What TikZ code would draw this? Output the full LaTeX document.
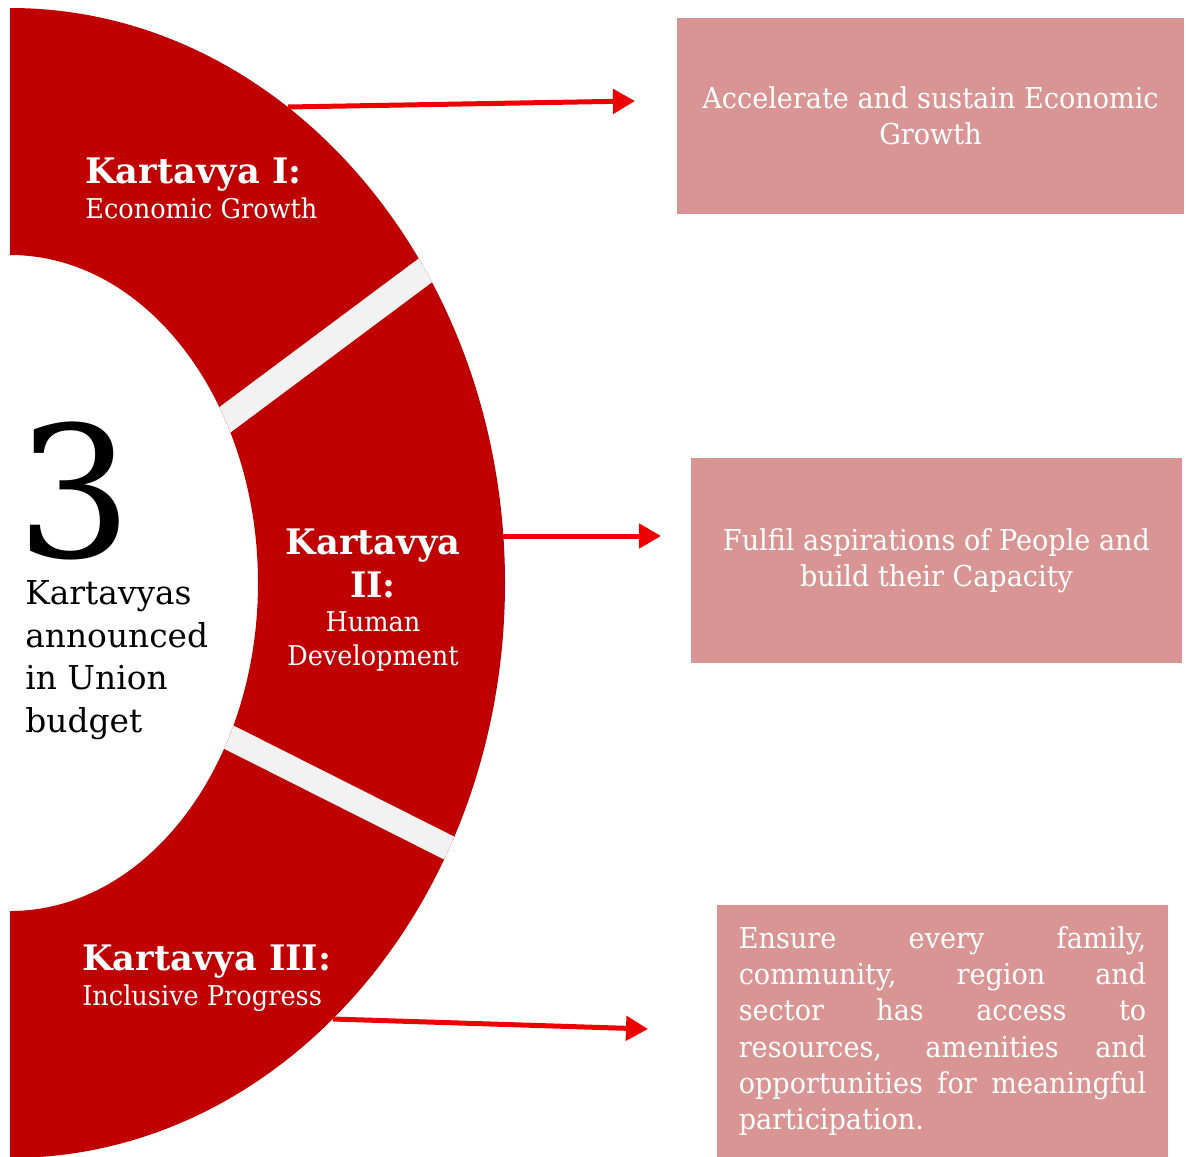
\documentclass[tikz,border=0pt]{standalone}
\usepackage{fontspec}
\setmainfont{DejaVu Serif}
\newfontfamily\slimserif[FakeStretch=0.94]{DejaVu Serif}
\usepackage{tikz}
\usetikzlibrary{shapes,arrows.meta,positioning}

\definecolor{ringred}{RGB}{192,0,0}
\definecolor{gapgray}{RGB}{242,242,242}
\definecolor{arrowred}{RGB}{238,0,0}
\definecolor{boxpink}{RGB}{217,149,148}

\tikzset{
  headtxt/.style={text=white,inner sep=0pt,font=\fontsize{20}{24}\selectfont\bfseries},
  subtxt/.style={text=white,inner sep=0pt,font=\slimserif\fontsize{15.5}{19}\selectfont},
  goalbox/.style={fill=boxpink,text=white,inner sep=0pt,align=center,
    font=\slimserif\fontsize{16.4}{20.6}\selectfont},
  goalarrow/.style={draw=arrowred,line width=0.1cm,-{Triangle[length=0.44cm,width=0.48cm]}}
}

\begin{document}
\begin{tikzpicture}[x=0.02cm,y=-0.02cm]
\useasboundingbox (0,0) rectangle (1186,1156);
% half ring with two gaps
\begin{scope}
\clip (10,8) arc[start angle=-90,end angle=90,x radius=495,y radius=575]
  -- (10,911) arc[start angle=90,end angle=-90,x radius=248,y radius=328] -- cycle;
\fill[ringred] (0,0) rectangle (600,1160);
\draw[gapgray,line width=0.54cm] (10,580) -- (560,170);
\draw[gapgray,line width=0.5cm] (10,627) -- (600,924);
\end{scope}

% centre text
\node[inner sep=0pt,font=\fontsize{104}{104}\selectfont] (num) at (75,491) {3};
\node[inner sep=0pt,anchor=base west,align=left,font=\fontsize{18.7}{24.1}\selectfont] (lead) at (25,732)
  {Kartavyas\\announced\\in Union\\budget};

% kartavya labels
\node[headtxt,anchor=base west] (k1) at (85,183) {Kartavya I:};
\node[subtxt,anchor=base west] (k1s) at (85,218) {Economic Growth};
\node[headtxt,anchor=base] (k2) at (373,554) {Kartavya};
\node[headtxt,anchor=base] (k2n) at (373,597) {II:};
\node[subtxt,anchor=base] (k2s) at (373,631) {Human};
\node[subtxt,anchor=base] (k2t) at (373,665) {Development};
\node[headtxt,anchor=base west] (k3) at (82,970) {Kartavya III:};
\node[subtxt,anchor=base west] (k3s) at (82,1005) {Inclusive Progress};

% goal boxes
\node[goalbox,minimum width=10.14cm,minimum height=3.92cm] (g1) at (930.5,116)
  {Accelerate and sustain Economic\\Growth};
\node[goalbox,minimum width=9.82cm,minimum height=4.1cm] (g2) at (936.5,560.5)
  {Fulfil aspirations of People and\\build their Capacity};
\node[goalbox,minimum width=9.02cm,minimum height=5.06cm,align=left] (g3) at (942.5,1031)
  {\makebox[231.9pt][s]{Ensure every family,}\\
   \makebox[231.9pt][s]{community, region and}\\
   \makebox[231.9pt][s]{sector has access to}\\
   \makebox[231.9pt][s]{resources, amenities and}\\
   \makebox[231.9pt][s]{opportunities for meaningful}\\
   participation.};

% arrows
\coordinate (s1) at (288,107);
\coordinate (e1) at (635,101);
\coordinate (s2) at (503,536);
\coordinate (e2) at (661,536);
\coordinate (s3) at (333,1019);
\coordinate (e3) at (648,1029);
\draw[goalarrow] (s1) -- (e1);
\draw[goalarrow] (s2) -- (e2);
\draw[goalarrow] (s3) -- (e3);
\end{tikzpicture}
\end{document}
